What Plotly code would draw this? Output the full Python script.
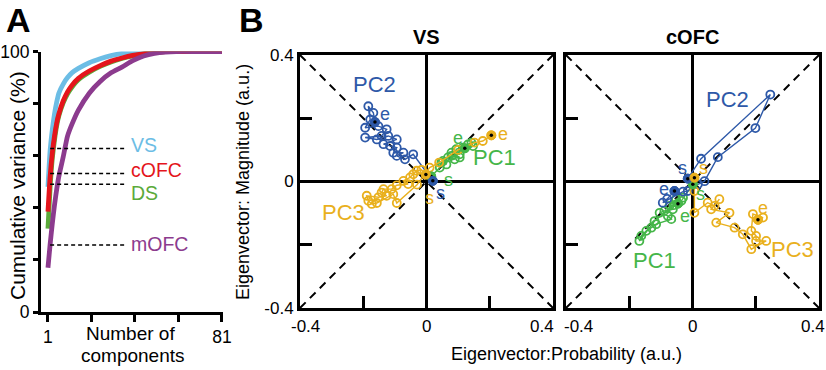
import plotly.graph_objects as go

W, H = 826, 370
FONT = "Liberation Sans, Arial, sans-serif"

# ---------------- Panel A data ----------------
comp = [1, 2, 3, 4, 5, 6, 8, 10, 12, 15, 20, 25, 30, 35, 40, 45, 50, 55, 60, 70, 81]
cum_vs = [48, 62, 70, 76, 80.5, 84, 87.5, 90, 91.8, 93.5, 95.7, 97.2, 98.4, 99.3, 99.8, 100, 100, 100, 100, 100, 100]
cum_cofc = [38.5, 52, 61, 67.5, 72.5, 76, 81, 84.5, 87, 89.7, 92.5, 94.6, 96.3, 97.5, 98.5, 99.2, 99.7, 100, 100, 100, 100]
cum_ds = [32, 48, 59, 66, 71.5, 75.3, 80.3, 83.8, 86.3, 89.2, 92.1, 94.3, 96, 97.3, 98.3, 99.1, 99.6, 100, 100, 100, 100]
cum_mofc = [17, 26, 34, 41, 47, 52, 59.5, 67.5, 72, 77.5, 84, 88.5, 91.8, 94, 96.5, 98.3, 99.3, 99.8, 100, 100, 100]
region_names = ["VS", "cOFC", "DS", "mOFC"]
two_pc_levels = [62.8, 53.2, 49, 25.7]     # dashed reference levels
dash_from, dash_to = 2, 37
a_xticks = [1, 21, 41, 61, 81]
a_xticktext = ["1", "", "", "", "81"]
a_yticks = [0, 20, 40, 60, 80, 100]
a_yticktext = ["0", "", "", "", "", "100"]

# ---------------- Panel B data ----------------
# VS
vs_pc1_x = [0.015, 0.042, 0.047, 0.063, 0.052, 0.068, 0.089, 0.079, 0.105, 0.079, 0.105, 0.094, 0.131, 0.147, 0.142, 0.115, 0.121]
vs_pc1_y = [0.016, 0.044, 0.060, 0.054, 0.065, 0.076, 0.070, 0.081, 0.076, 0.091, 0.086, 0.102, 0.117, 0.112, 0.123, 0.107, 0.105]
vs_pc2_x = [0.020, -0.042, -0.068, -0.094, -0.073, -0.105, -0.094, -0.115, -0.136, -0.094, -0.121, -0.157, -0.194, -0.142, -0.126, -0.152, -0.194, -0.178, -0.184, -0.168, -0.163]
vs_pc2_y = [0.002, 0.086, 0.070, 0.081, 0.091, 0.091, 0.107, 0.112, 0.118, 0.133, 0.144, 0.133, 0.139, 0.144, 0.165, 0.175, 0.170, 0.196, 0.238, 0.217, 0.188]
vs_pc3_x = [-0.002, -0.016, -0.031, -0.042, -0.052, -0.073, -0.058, -0.094, -0.110, -0.136, -0.142, -0.126, -0.152, -0.189, -0.184, -0.173, -0.157, -0.105, -0.094, -0.030, 0.010, 0.040, 0.100, 0.152, 0.178, 0.205]
vs_pc3_y = [0.022, 0.037, 0.034, 0.023, 0.013, 0.002, -0.008, -0.012, -0.024, -0.024, -0.035, -0.045, -0.050, -0.045, -0.061, -0.071, -0.068, -0.040, -0.068, -0.010, 0.044, 0.060, 0.100, 0.123, 0.128, 0.146]
# cOFC
co_pc1_x = [0.001, -0.030, -0.035, -0.052, -0.073, -0.062, -0.089, -0.104, -0.078, -0.067, -0.115, -0.130, -0.146, -0.162, -0.168, -0.120, -0.060, -0.046]
co_pc1_y = [-0.009, -0.051, -0.061, -0.056, -0.077, -0.088, -0.093, -0.099, -0.109, -0.119, -0.135, -0.146, -0.156, -0.172, -0.188, -0.125, -0.075, -0.070]
co_pc2_x = [-0.015, 0.027, 0.246, 0.199, 0.080, 0.038, 0.017, -0.015, -0.030, -0.094, -0.080, -0.057]
co_pc2_y = [0.009, 0.072, 0.275, 0.169, 0.077, 0.001, -0.009, -0.030, -0.032, -0.067, -0.055, -0.030]
co_pc3_x = [0.006, 0.006, 0.006, 0.048, 0.070, 0.085, 0.059, 0.117, 0.075, 0.133, 0.159, 0.186, 0.233, 0.201, 0.201, 0.186, 0.191, 0.223, 0.207]
co_pc3_y = [0.012, -0.030, -0.099, -0.067, -0.077, -0.056, -0.088, -0.099, -0.130, -0.146, -0.167, -0.214, -0.188, -0.188, -0.172, -0.156, -0.103, -0.114, -0.121]

b_ticks = [-0.4, -0.2, 0, 0.2, 0.4]
b_ticktext = ["-0.4", "", "0", "", "0.4"]
LIM = 0.4

# label positions
a_label_y = [64, 54.5, 45.8, 26]
vs_pc_labels = [("PC1", 0.215, 0.076), ("PC2", -0.163, 0.306), ("PC3", -0.263, -0.098)]
co_pc_labels = [("PC1", -0.12, -0.251), ("PC2", 0.112, 0.260), ("PC3", 0.317, -0.214)]
vs_se_labels = [("e", 0.100, 0.139, 0), ("s", 0.070, 0.004, 0), ("e", -0.131, 0.212, 1), ("s", 0.044, -0.037, 1), ("e", 0.241, 0.149, 2), ("s", 0.008, -0.052, 2)]
co_se_labels = [("e", -0.025, -0.110, 0), ("s", 0.024, -0.041, 0), ("e", -0.089, -0.025, 1), ("s", -0.031, 0.043, 1), ("e", 0.223, -0.083, 2), ("s", 0.035, 0.043, 2)]
vs_xlabel_shift = [5, 0, 0, 0, -11]
co_xlabel_shift = [12, 0, 0, 0, -6]

# ---------------- styles ----------------
A_COLORS = ["#6CBDE5", "#E4151C", "#5BAA3A", "#8C3B8E"]
PC_COLORS = ["#45B649", "#2E59A8", "#E9B01D"]

fig = go.Figure()

# Panel A curves (drawing order: VS, DS, cOFC, mOFC)
for idx in [0, 2, 1, 3]:
    ys = [cum_vs, cum_cofc, cum_ds, cum_mofc][idx]
    fig.add_trace(go.Scatter(x=comp, y=ys, mode="lines", line=dict(color=A_COLORS[idx], width=4.8, shape="spline", smoothing=0.6),
                             xaxis="x", yaxis="y", showlegend=False, hoverinfo="skip"))
for lev in two_pc_levels:
    fig.add_trace(go.Scatter(x=[dash_from, dash_to], y=[lev, lev], mode="lines",
                             line=dict(color="black", width=1.5, dash="4px,3px"),
                             xaxis="x", yaxis="y", showlegend=False, hoverinfo="skip"))
for name, ly, col in zip(region_names, a_label_y, A_COLORS):
    fig.add_annotation(x=38.5, y=ly, xref="x", yref="y", text=name, showarrow=False, xanchor="left",
                       yanchor="middle", borderpad=0, font=dict(family=FONT, size=19.5, color=col))


def add_panel(xa, ya, series, pc_labels, se_labels, xshifts):
    # diagonals
    for sgn in (1, -1):
        fig.add_trace(go.Scatter(x=[-LIM, LIM], y=[-sgn * LIM, sgn * LIM], mode="lines",
                                 line=dict(color="black", width=2, dash="8px,6px"),
                                 xaxis=xa, yaxis=ya, showlegend=False, hoverinfo="skip"))
    for (xs, ys), col in zip(series, PC_COLORS):
        fig.add_trace(go.Scatter(x=xs, y=ys, mode="lines+markers",
                                 line=dict(color=col, width=1.4),
                                 marker=dict(symbol="circle-open", size=8, color=col, line=dict(width=1.8, color=col)),
                                 xaxis=xa, yaxis=ya, showlegend=False, hoverinfo="skip"))
    for (xs, ys), col in zip(series, PC_COLORS):
        fig.add_trace(go.Scatter(x=[xs[0], xs[-1]], y=[ys[0], ys[-1]], mode="markers",
                                 marker=dict(symbol="circle", size=9, color=col, line=dict(width=1, color=col)),
                                 xaxis=xa, yaxis=ya, showlegend=False, hoverinfo="skip"))
        fig.add_trace(go.Scatter(x=[xs[0], xs[-1]], y=[ys[0], ys[-1]], mode="markers",
                                 marker=dict(symbol="circle", size=3.5, color="black"),
                                 xaxis=xa, yaxis=ya, showlegend=False, hoverinfo="skip"))
    for txt, x, y in pc_labels:
        col = PC_COLORS[int(txt[-1]) - 1]
        fig.add_annotation(x=x, y=y, xref=xa, yref=ya, text=txt, showarrow=False,
                           font=dict(family=FONT, size=22, color=col))
    for txt, x, y, k in se_labels:
        fig.add_annotation(x=x, y=y, xref=xa, yref=ya, text=txt, showarrow=False, borderpad=0,
                           font=dict(family=FONT, size=18, color=PC_COLORS[k]))
    # x tick labels (edge labels nudged inward as in the original)
    for val, txt, sh in zip(b_ticks, b_ticktext, xshifts):
        if txt:
            fig.add_annotation(x=val, y=1 - 326 / H, xref=xa, yref="paper", text=txt, showarrow=False,
                               xshift=sh, yanchor="middle", font=dict(family=FONT, size=17, color="black"))


add_panel("x2", "y2", [(vs_pc1_x, vs_pc1_y), (vs_pc2_x, vs_pc2_y), (vs_pc3_x, vs_pc3_y)], vs_pc_labels, vs_se_labels, vs_xlabel_shift)
add_panel("x3", "y3", [(co_pc1_x, co_pc1_y), (co_pc2_x, co_pc2_y), (co_pc3_x, co_pc3_y)], co_pc_labels, co_se_labels, co_xlabel_shift)

tickfont_a = dict(family=FONT, size=17.5, color="black")
tickfont_b = dict(family=FONT, size=17, color="black")


def px_x(a, b):
    return [a / W, b / W]


def px_y(top, bottom):
    return [1 - bottom / H, 1 - top / H]


axis_common = dict(showline=True, linewidth=3, linecolor="black", showgrid=False, tickcolor="black",
                   tickwidth=3, automargin=False)
b_axis = dict(range=[-LIM, LIM], tickvals=b_ticks, ticks="inside", ticklen=12, mirror=True, zeroline=True,
              zerolinecolor="black", zerolinewidth=2.5, tickfont=tickfont_b, **axis_common)

fig.update_layout(
    width=W, height=H, margin=dict(l=0, r=0, t=0, b=0, autoexpand=False),
    paper_bgcolor="white", plot_bgcolor="white", showlegend=False,
    xaxis=dict(domain=px_x(41, 223), range=[-2.2, 81.5], tickvals=a_xticks, ticktext=a_xticktext,
               ticks="outside", ticklen=7, zeroline=False, anchor="y", tickfont=tickfont_a, **axis_common),
    yaxis=dict(domain=px_y(51.5, 312), range=[0, 100], tickvals=a_yticks, ticktext=a_yticktext,
               ticks="outside", ticklen=5, zeroline=False, anchor="x", tickfont=tickfont_a, **axis_common),
    xaxis2=dict(domain=px_x(300, 553), showticklabels=False, anchor="y2", **b_axis),
    yaxis2=dict(domain=px_y(55, 308), ticktext=b_ticktext, anchor="x2", **b_axis),
    xaxis3=dict(domain=px_x(566, 819), showticklabels=False, anchor="y3", **b_axis),
    yaxis3=dict(domain=px_y(55, 308), showticklabels=False, anchor="x3", **b_axis),
)


def ann(text, x, y, size, bold=False, angle=0, color="black"):
    fig.add_annotation(x=x / W, y=1 - y / H, xref="paper", yref="paper", text=f"<b>{text}</b>" if bold else text,
                       showarrow=False, textangle=angle, xanchor="center", yanchor="middle",
                       font=dict(family=FONT, size=size, color=color))


ann("A", 18, 20, 34, bold=True)
ann("B", 251, 20, 34, bold=True)
ann("VS", 426.5, 37, 20, bold=True)
ann("cOFC", 692.5, 37, 20, bold=True)
ann("Cumulative variance (%)", 17, 186, 21, angle=-90)
ann("Number of", 130, 333, 19)
ann("components", 133, 355, 19)
ann("Eigenvector: Magnitude (a.u.)", 243, 182, 18, angle=-90)
ann("Eigenvector:Probability (a.u.)", 566, 354, 18)

fig.write_html("out.html", config={"displayModeBar": False},
               post_script="document.body.style.margin='0px';")
